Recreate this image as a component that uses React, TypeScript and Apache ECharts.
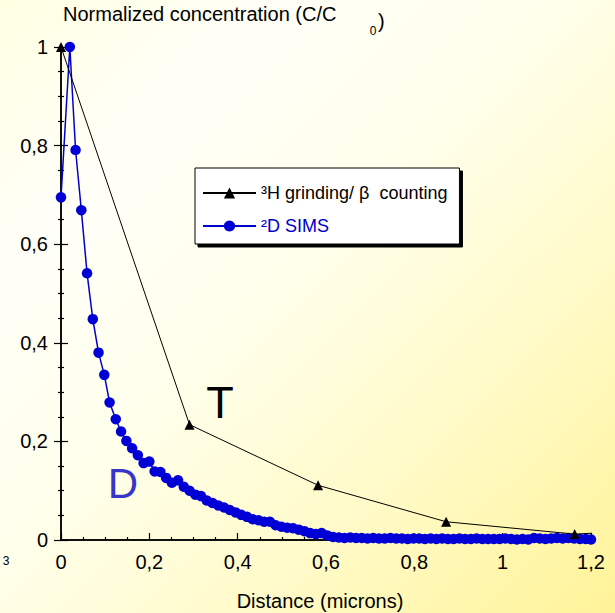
import React, { useEffect, useRef } from 'react';
import * as echarts from 'echarts';

const FONT = '"Liberation Sans", Arial, Helvetica, sans-serif';

const X_MIN = 0;
const X_MAX = 1.2;
const X_STEP = 0.2;
const Y_MIN = 0;
const Y_MAX = 1;
const Y_STEP = 0.2;

const TITLE_MAIN = 'Normalized concentration (C/C';
const TITLE_SUB = '0';
const TITLE_END = ')';
const X_NAME = 'Distance (microns)';
const T_LABEL = 'T';
const D_LABEL = 'D';
const STRAY_LABEL = '3';

const T_NAME = '³H grinding/ β  counting';
const D_NAME = '²D SIMS';

// Tritium (grinding / beta counting)
const tritiumX = [0, 0.291, 0.582, 0.872, 1.163, 1.3];
const tritiumY = [1.0, 0.234, 0.111, 0.037, 0.012, 0.018];

// Deuterium (SIMS)
const deuteriumX = [
  0.0, 0.02, 0.033, 0.046, 0.059, 0.072, 0.085, 0.098, 0.11, 0.124,
  0.136, 0.148, 0.161, 0.174, 0.187, 0.2, 0.212, 0.225, 0.238, 0.251,
  0.265, 0.278, 0.291, 0.304, 0.317, 0.33, 0.343, 0.356, 0.369, 0.382,
  0.395, 0.408, 0.421, 0.434, 0.447, 0.46, 0.473, 0.486, 0.499, 0.512,
  0.525, 0.538, 0.551, 0.564, 0.577, 0.59, 0.603, 0.616, 0.629, 0.642,
  0.655, 0.668, 0.681, 0.694, 0.707, 0.72, 0.733, 0.746, 0.759, 0.772,
  0.785, 0.798, 0.811, 0.824, 0.837, 0.85, 0.863, 0.876, 0.889, 0.902,
  0.915, 0.928, 0.941, 0.954, 0.967, 0.98, 0.993, 1.006, 1.019, 1.032,
  1.045, 1.058, 1.071, 1.084, 1.097, 1.11, 1.123, 1.136, 1.149, 1.162,
  1.175, 1.188, 1.2,
];
const deuteriumY = [
  0.695, 1.0, 0.791, 0.669, 0.541, 0.448, 0.38, 0.335, 0.279, 0.245,
  0.22, 0.201, 0.186, 0.172, 0.156, 0.159, 0.139, 0.138, 0.126, 0.116,
  0.121, 0.108, 0.1, 0.092, 0.089, 0.08, 0.075, 0.07, 0.066, 0.061,
  0.056, 0.051, 0.047, 0.042, 0.04, 0.037, 0.037, 0.03, 0.027, 0.025,
  0.024, 0.021, 0.018, 0.014, 0.012, 0.014, 0.009, 0.006, 0.005, 0.004,
  0.005, 0.004, 0.004, 0.003, 0.004, 0.003, 0.003, 0.004, 0.003, 0.003,
  0.002, 0.003, 0.003, 0.002, 0.003, 0.002, 0.003, 0.002, 0.002, 0.003,
  0.002, 0.002, 0.003, 0.002, 0.002, 0.002, 0.002, 0.003, 0.002, 0.001,
  0.002, 0.001, 0.004, 0.003, 0.002, 0.003, 0.004, 0.003, 0.004, 0.003,
  0.002, 0.002, 0.001,
];

const zip = (xs: number[], ys: number[]) => xs.map((x, i) => [x, ys[i]]);
const fmt = (v: number) => String(Math.round(v * 10) / 10).replace('.', ',');

export default function App() {
  const ref = useRef<HTMLDivElement>(null);

  useEffect(() => {
    if (!ref.current) return;
    const chart = echarts.init(ref.current, undefined, { renderer: 'svg' });
    const axisLine = { show: true, lineStyle: { color: '#000', width: 1.5 } };
    const tickStyle = { color: '#000', width: 1.2 };
    chart.setOption({
      animation: false,
      backgroundColor: 'transparent',
      textStyle: { fontFamily: FONT },
      grid: { left: 61, right: 24, top: 47, bottom: 73 },
      legend: {
        show: true,
        orient: 'vertical',
        left: 195,
        top: 168,
        data: [
          { name: T_NAME, textStyle: { color: '#000' } },
          { name: D_NAME, textStyle: { color: '#0000CC' } },
        ],
        itemWidth: 53,
        itemHeight: 14,
        itemGap: 15,
        padding: [16, 12, 9, 7],
        backgroundColor: '#fff',
        borderColor: '#000',
        borderWidth: 1,
        shadowColor: '#000',
        shadowOffsetX: 3,
        shadowOffsetY: 3,
        shadowBlur: 0,
        textStyle: { fontSize: 18, fontFamily: FONT },
      },
      xAxis: [
        {
          type: 'value',
          position: 'bottom',
          min: X_MIN,
          max: X_MAX,
          interval: X_STEP,
          axisLine,
          axisTick: { show: true, inside: true, length: 7, lineStyle: tickStyle },
          minorTick: { show: true, splitNumber: 4, length: 3, lineStyle: tickStyle },
          axisLabel: { formatter: fmt, fontSize: 20, margin: 12, color: '#000', fontFamily: FONT },
          splitLine: { show: false },
          minorSplitLine: { show: false },
        },
        {
          type: 'value',
          position: 'top',
          min: X_MIN,
          max: X_MAX,
          interval: X_STEP,
          axisLine,
          axisTick: { show: false },
          axisLabel: { show: false },
          splitLine: { show: false },
        },
      ],
      yAxis: [
        {
          type: 'value',
          position: 'left',
          min: Y_MIN,
          max: Y_MAX,
          interval: Y_STEP,
          axisLine,
          axisTick: { show: true, inside: true, length: 7, lineStyle: tickStyle },
          minorTick: { show: true, splitNumber: 4, length: 3, lineStyle: tickStyle },
          axisLabel: { formatter: fmt, fontSize: 20, margin: 13, color: '#000', fontFamily: FONT },
          splitLine: { show: false },
        },
        {
          type: 'value',
          position: 'right',
          min: Y_MIN,
          max: Y_MAX,
          interval: Y_STEP,
          axisLine,
          axisTick: { show: true, inside: true, length: 7, lineStyle: tickStyle },
          minorTick: { show: true, splitNumber: 4, length: 3, lineStyle: tickStyle },
          axisLabel: { show: false },
          splitLine: { show: false },
        },
      ],
      series: [
        {
          name: D_NAME,
          type: 'line',
          data: zip(deuteriumX, deuteriumY),
          symbol: 'circle',
          symbolSize: 10.5,
          showAllSymbol: true,
          lineStyle: { color: '#0000CC', width: 1.5 },
          itemStyle: { color: '#0000D6' },
          z: 2,
        },
        {
          name: T_NAME,
          type: 'line',
          data: zip(tritiumX, tritiumY),
          symbol: 'triangle',
          symbolSize: 10,
          showAllSymbol: true,
          lineStyle: { color: '#000', width: 1 },
          itemStyle: { color: '#000' },
          z: 3,
        },
      ],
      graphic: [
        {
          type: 'text',
          left: 63,
          top: 4,
          style: { text: TITLE_MAIN, fontSize: 20, fontFamily: FONT, fill: '#000' },
        },
        {
          type: 'text',
          x: 373,
          y: 31,
          style: { text: TITLE_SUB, fontSize: 12, fontFamily: FONT, fill: '#000', align: 'center', verticalAlign: 'middle' },
        },
        {
          type: 'text',
          x: 378,
          y: 21,
          style: { text: TITLE_END, fontSize: 20, fontFamily: FONT, fill: '#000', align: 'left', verticalAlign: 'middle' },
        },
        {
          type: 'text',
          x: 320,
          y: 601,
          style: { text: X_NAME, fontSize: 20, fontFamily: FONT, fill: '#000', align: 'center', verticalAlign: 'middle' },
        },
        {
          type: 'text',
          x: 220,
          y: 402,
          style: { text: T_LABEL, fontSize: 45, fontFamily: FONT, fill: '#000', align: 'center', verticalAlign: 'middle' },
        },
        {
          type: 'text',
          x: 123,
          y: 483,
          style: { text: D_LABEL, fontSize: 42, fontFamily: FONT, fill: '#3636C8', align: 'center', verticalAlign: 'middle' },
        },
        {
          type: 'text',
          x: 6,
          y: 561,
          style: { text: STRAY_LABEL, fontSize: 12, fontFamily: FONT, fill: '#000', align: 'center', verticalAlign: 'middle' },
        },
      ],
    });
    return () => chart.dispose();
  }, []);

  return (
    <div
      style={{
        position: 'absolute',
        left: 0,
        top: 0,
        width: 615,
        height: 613,
        background:
          'linear-gradient(135deg, #FFFFE2 0%, #FFFFF8 22%, #FFFFEC 45%, #FFFAC6 72%, #FFF398 100%)',
      }}
    >
      <div ref={ref} style={{ width: 615, height: 613 }} />
    </div>
  );
}
